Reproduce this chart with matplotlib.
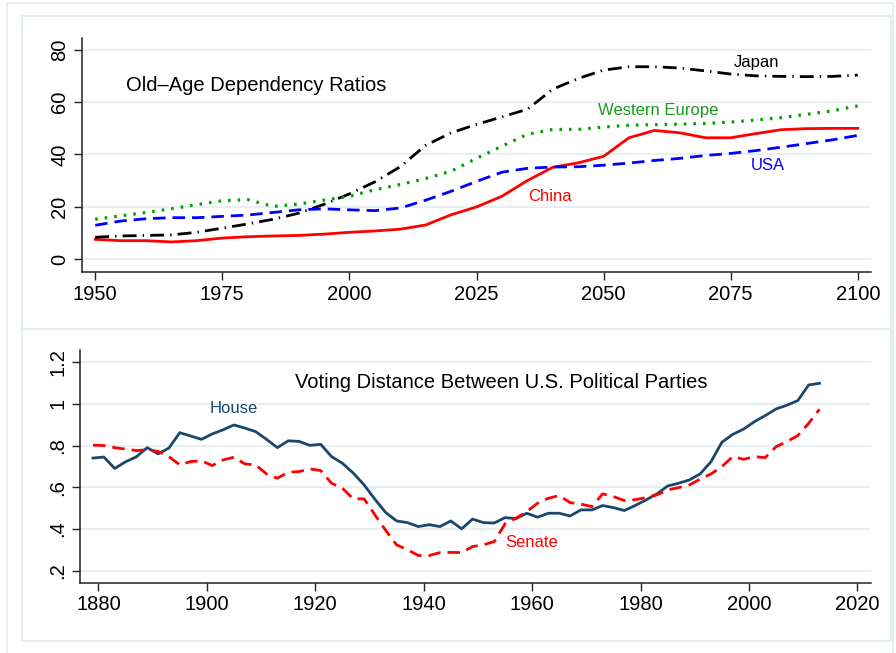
import matplotlib
matplotlib.use("Agg")
import matplotlib.pyplot as plt
from matplotlib.patches import Rectangle
from matplotlib.lines import Line2D

plt.rcParams['font.family'] = ['Liberation Sans', 'DejaVu Sans']

# old-age dependency ratios, every 5 years
years = list(range(1950, 2101, 5))
china = [7.5, 7.0, 7.0, 6.5, 7.0, 8.0, 8.5, 8.8, 9.0, 9.5, 10.2, 10.7, 11.4, 13.0, 16.9,
         19.9, 24.0, 30.0, 35.1, 36.8, 39.3, 46.4, 49.2, 48.3, 46.4, 46.4, 48.0, 49.5,
         49.9, 50.0, 50.0]
japan = [8.3, 8.8, 9.0, 9.2, 10.2, 11.8, 13.4, 15.2, 17.5, 20.9, 24.9, 29.5, 35.3, 43.5,
         48.3, 51.5, 54.4, 57.3, 65.0, 69.1, 72.3, 73.6, 73.6, 73.1, 72.0, 70.8, 70.1,
         69.9, 69.8, 69.9, 70.4]
w_europe = [15.2, 16.5, 17.8, 19.2, 20.8, 22.3, 22.7, 20.1, 21.0, 22.5, 24.0, 26.5, 28.5,
            30.8, 33.6, 38.5, 43.2, 47.7, 49.6, 49.6, 50.5, 51.2, 51.4, 51.6, 51.9, 52.4,
            53.2, 54.1, 55.4, 56.7, 58.6]
usa = [12.9, 14.5, 15.4, 15.8, 15.8, 16.3, 16.8, 17.8, 18.8, 19.2, 18.8, 18.5, 19.5,
       22.5, 25.9, 29.7, 33.2, 34.7, 35.2, 35.3, 35.9, 36.7, 37.7, 38.5, 39.6, 40.4,
       41.5, 42.8, 44.2, 45.6, 47.3]

# voting distance between parties, by Congress (every 2 years)
congress = list(range(1879, 2014, 2))
house = [0.740, 0.745, 0.690, 0.722, 0.746, 0.790, 0.760, 0.788, 0.862, 0.846, 0.830,
         0.856, 0.876, 0.899, 0.884, 0.867, 0.830, 0.790, 0.823, 0.820, 0.801, 0.806,
         0.747, 0.715, 0.668, 0.611, 0.542, 0.478, 0.438, 0.430, 0.411, 0.420, 0.411,
         0.438, 0.400, 0.447, 0.430, 0.428, 0.454, 0.449, 0.475, 0.456, 0.475, 0.475,
         0.462, 0.491, 0.491, 0.512, 0.502, 0.488, 0.512, 0.539, 0.568, 0.606, 0.619,
         0.635, 0.664, 0.723, 0.816, 0.854, 0.879, 0.915, 0.944, 0.976, 0.994, 1.016,
         1.091, 1.099]
senate = [0.802, 0.800, 0.790, 0.783, 0.776, 0.780, 0.772, 0.747, 0.707, 0.723, 0.727,
          0.704, 0.731, 0.744, 0.712, 0.707, 0.664, 0.643, 0.672, 0.675, 0.688, 0.680,
          0.619, 0.595, 0.544, 0.544, 0.467, 0.392, 0.323, 0.300, 0.272, 0.272, 0.286,
          0.287, 0.286, 0.315, 0.323, 0.339, 0.424, 0.451, 0.483, 0.523, 0.547, 0.560,
          0.526, 0.519, 0.507, 0.568, 0.555, 0.536, 0.540, 0.550, 0.563, 0.587, 0.598,
          0.611, 0.639, 0.664, 0.699, 0.747, 0.734, 0.747, 0.742, 0.795, 0.819, 0.848,
          0.907, 0.974]

top_xticks = [1950, 1975, 2000, 2025, 2050, 2075, 2100]
top_yticks = [0, 20, 40, 60, 80]
bot_xticks = [1880, 1900, 1920, 1940, 1960, 1980, 2000, 2020]
bot_yticks = [0.2, 0.4, 0.6, 0.8, 1.0, 1.2]
bot_ylabels = ['.2', '.4', '.6', '.8', '1', '1.2']

W, H = 896, 653
fig = plt.figure(figsize=(W / 100, H / 100), dpi=100)
border = '#e4ecef'
grid = '#e8eff2'
navy = '#1a476f'


def px(x0, y0, x1, y1):
    # pixel box -> figure fraction
    return [x0 / W, 1 - y1 / H, (x1 - x0) / W, (y1 - y0) / H]


# frames around the graph region
fig.patches.append(Rectangle((7 / W, -0.1), (893 - 7) / W, 1 - 3 / H + 0.1,
                             transform=fig.transFigure, fill=False, ec=border, lw=1.2))
fig.patches.append(Rectangle((22 / W, 1 - 641 / H), (891 - 22) / W, (641 - 16) / H,
                             transform=fig.transFigure, fill=False, ec=border, lw=1.5))
fig.lines.append(Line2D([22 / W, 891 / W], [1 - 329 / H, 1 - 329 / H],
                        transform=fig.transFigure, color=border, lw=1.5))


def style(ax):
    for s in ['top', 'right']:
        ax.spines[s].set_visible(False)
    for s in ['left', 'bottom']:
        ax.spines[s].set_color('#222222')
        ax.spines[s].set_linewidth(1.1)
    ax.tick_params(direction='out', length=6, width=1.0, color='#222222',
                   labelsize=14.5, pad=3)
    ax.grid(axis='y', color=grid, lw=1.5)
    ax.set_axisbelow(True)
    for lab in ax.get_yticklabels():
        lab.set_rotation(90)
        lab.set_va('center')


# top panel
ax1 = fig.add_axes(px(82, 38, 871, 272))
ax1.plot(years, china, color='#ff0000', lw=2.0)
ax1.plot(years, japan, color='black', lw=2.0, dashes=(5, 2.2, 0.5, 2.2))
ax1.plot(years, w_europe, color='#00a000', lw=2.3, dashes=(0.8, 2.2))
ax1.plot(years, usa, color='#0000ff', lw=2.0, dashes=(4.5, 2.5))
ax1.set_xlim(1947.4, 2102.6)
ax1.set_ylim(-5, 84.6)
ax1.set_xticks(top_xticks)
ax1.set_yticks(top_yticks)
style(ax1)
ax1.text(1956.1, 66.5, 'Old\u2013Age Dependency Ratios', fontsize=14.5, va='center')
ax1.text(2080.1, 75.4, 'Japan', fontsize=12, color='black', ha='center', va='center')
ax1.text(2060.8, 57.0, 'Western Europe', fontsize=12, color='#1a9a1a', ha='center', va='center')
ax1.text(2082.3, 35.8, 'USA', fontsize=12, color='#0000ff', ha='center', va='center')
ax1.text(2039.4, 24.0, 'China', fontsize=12, color='#ff0000', ha='center', va='center')

# bottom panel
ax2 = fig.add_axes(px(80, 350, 871, 583))
ax2.plot(congress, house, color=navy, lw=2.0)
ax2.plot(congress, senate, color='#ff0000', lw=2.0, dashes=(4.5, 2.5))
ax2.set_xlim(1876.6, 2022.5)
ax2.set_ylim(0.14, 1.259)
ax2.set_xticks(bot_xticks)
ax2.set_yticks(bot_yticks)
ax2.set_yticklabels(bot_ylabels)
style(ax2)
ax2.text(1916.2, 1.104, 'Voting Distance Between U.S. Political Parties', fontsize=14.5,
         va='center')
ax2.text(1905.0, 0.979, 'House', fontsize=12, color=navy, ha='center', va='center')
ax2.text(1960.0, 0.334, 'Senate', fontsize=12, color='#ff0000', ha='center', va='center')

fig.savefig('out.png', dpi=100)
